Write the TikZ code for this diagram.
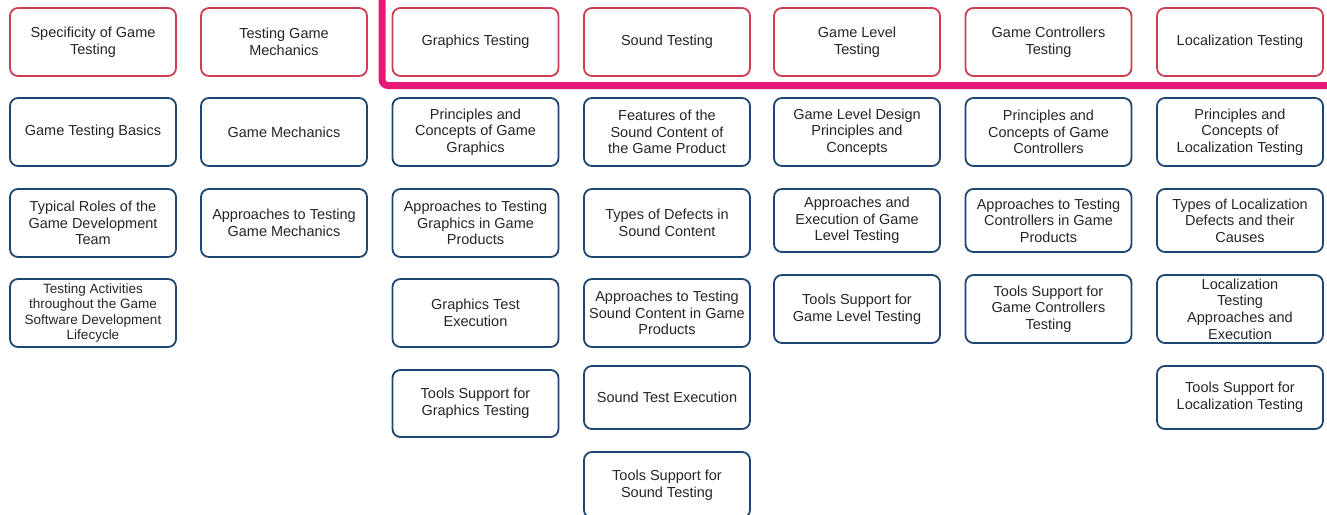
\documentclass[tikz,border=0pt]{standalone}
\usepackage{fontspec}
\setmainfont{Liberation Sans}
\definecolor{redc}{RGB}{206,62,82}
\definecolor{bluec}{RGB}{30,70,112}
\definecolor{pinkc}{RGB}{230,26,118}
\definecolor{txt}{RGB}{38,38,38}
\tikzset{
  box/.style={draw, rounded corners=8pt, line width=1.8pt, minimum width=166pt,
    align=center, inner sep=2pt, text=txt, fill=white,
    font=\fontsize{14.5}{16.6}\selectfont},
  rbox/.style={box, draw=redc, minimum height=68pt},
  bbox/.style={box, draw=bluec},
  pinkline/.style={draw=pinkc, line width=7pt, rounded corners=6pt}
}
\begin{document}
\begin{tikzpicture}[x=1pt,y=-1pt]
\useasboundingbox (0,0) rectangle (1327,514);
\clip (0,0) rectangle (1327,514);
\fill[white] (0,0) rectangle (1327,514);
% pink bracket line
\coordinate (ptop) at (382,-10);
\coordinate (pbend) at (382,85.5);
\coordinate (pend) at (1340,85.5);
\draw[pinkline] (ptop) -- (pbend) -- (pend);
% top row (red)
\node[rbox] (t1) at (93,42) {Specificity of Game\\Testing};
\node[rbox] (t2) at (284,42) {Testing Game\\Mechanics};
\node[rbox] (t3) at (475.5,42) {Graphics Testing};
\node[rbox] (t4) at (667,42) {Sound Testing};
\node[rbox] (t5) at (857,42) {Game Level\\Testing};
\node[rbox] (t6) at (1048.5,42) {Game Controllers\\Testing};
\node[rbox] (t7) at (1240,42) {Localization Testing};
% row 2
\node[bbox, minimum height=68pt] (b12) at (93,132) {Game Testing Basics};
\node[bbox, minimum height=68pt] (b22) at (284,132) {Game Mechanics};
\node[bbox, minimum height=68pt] (b32) at (475.5,132) {Principles and\\Concepts of Game\\Graphics};
\node[bbox, minimum height=68pt] (b42) at (667,132) {Features of the\\Sound Content of\\the Game Product};
\node[bbox, minimum height=68pt] (b52) at (857,132) {Game Level Design\\Principles and\\Concepts};
\node[bbox, minimum height=68pt] (b62) at (1048.5,132) {Principles and\\Concepts of Game\\Controllers};
\node[bbox, minimum height=68pt] (b72) at (1240,132) {Principles and\\Concepts of\\Localization Testing};
% row 3
\node[bbox, minimum height=68pt] (b13) at (93,223) {Typical Roles of the\\Game Development\\Team};
\node[bbox, minimum height=68pt] (b23) at (284,223) {Approaches to Testing\\Game Mechanics};
\node[bbox, minimum height=68pt] (b33) at (475.5,223) {Approaches to Testing\\Graphics in Game\\Products};
\node[bbox, minimum height=68pt] (b43) at (667,223) {Types of Defects in\\Sound Content};
\node[bbox, minimum height=63pt] (b53) at (857,220.5) {Approaches and\\Execution of Game\\Level Testing};
\node[bbox, minimum height=63pt] (b63) at (1048.5,220.5) {Approaches to Testing\\Controllers in Game\\Products};
\node[bbox, minimum height=63pt] (b73) at (1240,220.5) {Types of Localization\\Defects and their\\Causes};
% row 4
\node[bbox, minimum height=68pt, font=\fontsize{13.5}{15.6}\selectfont] (b14) at (93,313) {Testing Activities\\throughout the Game\\Software Development\\Lifecycle};
\node[bbox, minimum height=68pt] (b34) at (475.5,313) {Graphics Test\\Execution};
\node[bbox, minimum height=68pt] (b44) at (667,313) {Approaches to Testing\\Sound Content in Game\\Products};
\node[bbox, minimum height=68pt] (b54) at (857,309) {Tools Support for\\Game Level Testing};
\node[bbox, minimum height=68pt] (b64) at (1048.5,309) {Tools Support for\\Game Controllers\\Testing};
\node[bbox, minimum height=68pt] (b74) at (1240,309) {Localization\\Testing\\Approaches and\\Execution};
% row 5
\node[bbox, minimum height=67pt] (b35) at (475.5,403.5) {Tools Support for\\Graphics Testing};
\node[bbox, minimum height=63pt] (b45) at (667,397.5) {Sound Test Execution};
\node[bbox, minimum height=63pt] (b75) at (1240,397.5) {Tools Support for\\Localization Testing};
% row 6
\node[bbox, minimum height=66pt] (b46) at (667,485) {Tools Support for\\Sound Testing};
\end{tikzpicture}
\end{document}
